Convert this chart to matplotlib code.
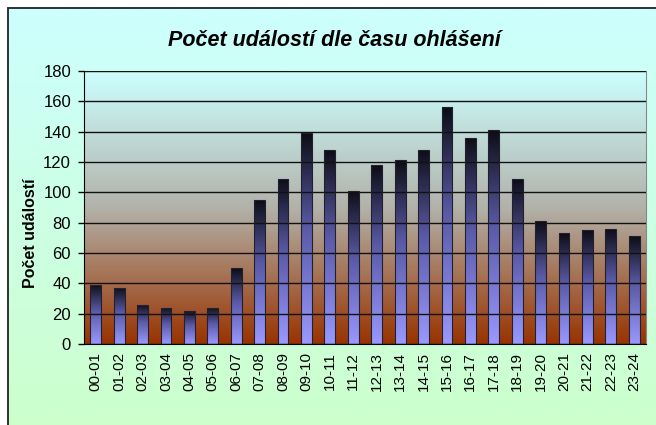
import numpy as np
import matplotlib
matplotlib.use("Agg")
import matplotlib.pyplot as plt
from matplotlib.colors import LinearSegmentedColormap
from matplotlib.patches import Rectangle

categories = ["00-01", "01-02", "02-03", "03-04", "04-05", "05-06", "06-07", "07-08",
              "08-09", "09-10", "10-11", "11-12", "12-13", "13-14", "14-15", "15-16",
              "16-17", "17-18", "18-19", "19-20", "20-21", "21-22", "22-23", "23-24"]
values = [39, 37, 26, 24, 22, 24, 50, 95, 109, 139, 128, 101, 118, 121, 128, 156,
          136, 141, 109, 81, 73, 75, 76, 71]
y_ticks = [0, 20, 40, 60, 80, 100, 120, 140, 160, 180]
title = "Počet událostí dle času ohlášení"
ylabel = "Počet událostí"

plt.rcParams['font.family'] = ['Liberation Sans', 'DejaVu Sans']

W, H = 656, 425
fig = plt.figure(figsize=(W / 100, H / 100), dpi=100)

# figure background gradient
bg = fig.add_axes([0, 0, 1, 1], zorder=-10)
bg.set_axis_off()
bg_cmap = LinearSegmentedColormap.from_list("bg", ["#CCFFCC", "#CCFFFF"])
grad = np.linspace(0, 1, 256).reshape(-1, 1)
bg.imshow(grad, cmap=bg_cmap, aspect='auto', extent=[0, 1, 0, 1], origin='lower')
bg.add_patch(Rectangle((8 / W, -0.1), 1.2, (H - 8) / H + 0.1, fill=False,
                       edgecolor='#222222', linewidth=1.3, transform=bg.transAxes))
bg.add_patch(Rectangle((0, (H - 7) / H), 1, 7 / H, facecolor='white', edgecolor='none',
                       transform=bg.transAxes))
bg.add_patch(Rectangle((0, 0), 7.4 / W, 1, facecolor='white', edgecolor='none',
                       transform=bg.transAxes))
bg.set_xlim(0, 1)
bg.set_ylim(0, 1)

left, right, top, bottom = 84, 646, 71, 344
ax = fig.add_axes([left / W, (H - bottom) / H, (right - left) / W, (bottom - top) / H])

# plot area gradient
pa_cmap = LinearSegmentedColormap.from_list(
    "pa", [(0, "#993300"), (0.5, "#B2B2AA"), (1, "#CCFFFF")])
ax.imshow(grad, cmap=pa_cmap, aspect='auto', extent=[0, 1, 0, 1], origin='lower',
          transform=ax.transAxes, zorder=0)

x = np.arange(len(categories))
bars = ax.bar(x, values, width=0.46, color='none', edgecolor='#202030',
              linewidth=0.8, zorder=3)
bar_cmap = LinearSegmentedColormap.from_list(
    "bar", [(0, "#9999FF"), (0.55, "#5A5AA8"), (1, "#0D0D15")])
for b, v in zip(bars, values):
    x0 = b.get_x()
    im = ax.imshow(grad, cmap=bar_cmap, aspect='auto',
                   extent=[x0, x0 + b.get_width(), 0, v], origin='lower', zorder=2)
    im.set_clip_path(b)

ax.set_xlim(-0.5, len(categories) - 0.5)
ax.set_ylim(0, 180)
ax.set_yticks(y_ticks)
ax.set_yticklabels([str(t) for t in y_ticks], fontsize=12)
ax.set_xticks(x)
ax.set_xticklabels(categories, rotation=90, fontsize=11)
ax.tick_params(axis='x', length=0, pad=6)
ax.tick_params(axis='y', length=4.3, width=1, direction='out', pad=5)
ax.yaxis.grid(True, color='#111111', linewidth=1.0, zorder=1)
ax.set_axisbelow(False)
for gl in ax.get_ygridlines():
    gl.set_zorder(1)
ax.spines['left'].set_color('black')
ax.spines['bottom'].set_color('black')
ax.spines['top'].set_color('#888888')
ax.spines['right'].set_color('#888888')

fig.text(334 / W, (H - 41) / H, title, ha='center', va='center', fontsize=15.5,
         fontweight='bold', fontstyle='italic')
fig.text(30.5 / W, (H - 233) / H, ylabel, rotation=90, ha='center', va='center',
         fontsize=11.5, fontweight='bold')

fig.savefig("out.png", dpi=100)
